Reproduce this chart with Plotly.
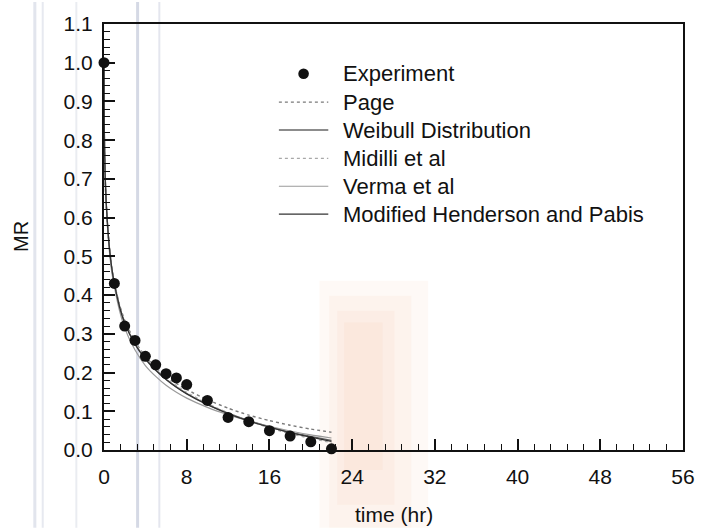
import plotly.graph_objects as go

# Drying data: measured moisture ratio versus time
t_exp = [0, 1, 2, 3, 4, 5, 6, 7, 8, 10, 12, 14, 16, 18, 20, 22]
mr_exp = [1.0, 0.43, 0.32, 0.283, 0.242, 0.22, 0.197, 0.186, 0.169, 0.128,
          0.084, 0.073, 0.05, 0.036, 0.021, 0.003]

# Fitted model curves, sampled along the drying time
t_fit = [0, 0.01, 0.05, 0.1, 0.2, 0.35, 0.5, 0.75, 1, 1.5, 2, 3, 4, 5, 6, 7, 8,
         10, 12, 14, 16, 18, 20, 22]
mr_page = [1.0, 0.87, 0.77, 0.71, 0.64, 0.575, 0.53, 0.47, 0.43, 0.375, 0.335,
           0.28, 0.242, 0.213, 0.19, 0.172, 0.156, 0.13, 0.108, 0.09, 0.076,
           0.064, 0.054, 0.046]
mr_weibull = [1.0, 0.88, 0.78, 0.72, 0.645, 0.58, 0.53, 0.47, 0.43, 0.372, 0.33,
              0.274, 0.236, 0.207, 0.183, 0.163, 0.146, 0.118, 0.095, 0.076,
              0.06, 0.046, 0.035, 0.025]
mr_midilli = [1.0, 0.86, 0.76, 0.70, 0.635, 0.575, 0.53, 0.472, 0.433, 0.375,
              0.332, 0.277, 0.24, 0.21, 0.186, 0.166, 0.149, 0.12, 0.096, 0.075,
              0.057, 0.042, 0.03, 0.019]
mr_verma = [1.0, 0.9, 0.8, 0.73, 0.65, 0.575, 0.52, 0.46, 0.422, 0.36, 0.315,
            0.258, 0.218, 0.19, 0.167, 0.149, 0.134, 0.11, 0.091, 0.075, 0.061,
            0.049, 0.039, 0.031]
mr_mhp = [1.0, 0.89, 0.79, 0.72, 0.645, 0.578, 0.528, 0.47, 0.43, 0.37, 0.328,
          0.273, 0.235, 0.206, 0.182, 0.162, 0.145, 0.117, 0.094, 0.075, 0.059,
          0.045, 0.033, 0.022]

x_ticks = [0, 8, 16, 24, 32, 40, 48, 56]
y_ticks = [0.0, 0.1, 0.2, 0.3, 0.4, 0.5, 0.6, 0.7, 0.8, 0.9, 1.0, 1.1]
y_labels = ["0.0", "0.1", "0.2", "0.3", "0.4", "0.5", "0.6", "0.7", "0.8",
            "0.9", "1.0", "1.1"]

models = [
    ("Page", mr_page, dict(color="#7a7a7a", width=1.4, dash="dot")),
    ("Weibull Distribution", mr_weibull, dict(color="#666666", width=1.3, dash="solid")),
    ("Midilli et al", mr_midilli, dict(color="#a8a8a8", width=1.3, dash="dot")),
    ("Verma et al", mr_verma, dict(color="#9a9a9a", width=1.2, dash="solid")),
    ("Modified Henderson and Pabis", mr_mhp, dict(color="#333333", width=1.3, dash="solid")),
]

W, H = 707, 528
L, R, T, B = 104, 17, 22, 78
PW, PH = W - L - R, H - T - B
FONT = "Arial, Liberation Sans, sans-serif"


def px(x):
    return (x - L) / PW


def py(y):
    return (H - B - y) / PH


fig = go.Figure()

for name, ys, style in models:
    fig.add_trace(go.Scatter(x=t_fit, y=ys, mode="lines", name=name,
                             line=dict(shape="spline", smoothing=0.6, **style),
                             cliponaxis=False, showlegend=False))

fig.add_trace(go.Scatter(x=t_exp, y=mr_exp, mode="markers", name="Experiment",
                         marker=dict(size=11, color="#111111",
                                     line=dict(width=0)),
                         cliponaxis=False, showlegend=False))

shapes = []
annotations = []

# faint scanner streaks and a soft warm tint on the page
for xs, col, w in [(34, "rgba(160,168,195,0.30)", 3), (42, "rgba(160,168,195,0.25)", 2),
                   (76, "rgba(170,178,200,0.25)", 2), (138, "rgba(150,160,190,0.40)", 3),
                   (160, "rgba(165,172,200,0.30)", 2)]:
    shapes.append(dict(type="line", xref="paper", yref="paper", layer="below",
                       x0=px(xs), x1=px(xs), y0=py(0), y1=py(H),
                       line=dict(color=col, width=w)))
for x0, x1, y0, y1 in [(322, 432, 280, H), (332, 415, 295, H),
                       (340, 398, 310, 505), (347, 386, 322, 470)]:
    shapes.append(dict(type="rect", xref="paper", yref="paper", layer="below",
                       x0=px(x0), x1=px(x1), y0=py(y0), y1=py(y1),
                       fillcolor="rgba(240,175,130,0.07)", line=dict(width=0)))

# key
row_y = [72, 100.5, 128.5, 157, 185, 213]
annotations.append(dict(xref="paper", yref="paper", x=px(344), y=py(row_y[0]),
                        xanchor="left", yanchor="middle", showarrow=False,
                        text="Experiment", font=dict(family=FONT, size=22, color="#111")))
shapes.append(dict(type="circle", xref="paper", yref="paper",
                   xsizemode="pixel", ysizemode="pixel",
                   xanchor=px(306), yanchor=py(row_y[0]),
                   x0=-5.3, x1=5.3, y0=-5.3, y1=5.3,
                   fillcolor="#111111", line=dict(width=0)))
for (name, ys, style), ry in zip(models, row_y[1:]):
    shapes.append(dict(type="line", xref="paper", yref="paper",
                       x0=px(281), x1=px(331), y0=py(ry), y1=py(ry),
                       line=dict(color=style["color"], width=style["width"],
                                 dash=style["dash"])))
    annotations.append(dict(xref="paper", yref="paper", x=px(344), y=py(ry),
                            xanchor="left", yanchor="middle", showarrow=False,
                            text=name, font=dict(family=FONT, size=22, color="#111")))

# axis titles
annotations.append(dict(xref="paper", yref="paper", x=0.5, y=py(515),
                        xanchor="center", yanchor="middle", showarrow=False,
                        text="time (hr)", font=dict(family=FONT, size=21, color="#111")))
annotations.append(dict(xref="paper", yref="paper", x=px(20), y=py(236),
                        xanchor="center", yanchor="middle", showarrow=False,
                        textangle=-90, text="MR",
                        font=dict(family=FONT, size=20, color="#111")))

axis_common = dict(showgrid=False, zeroline=False, showline=True, linewidth=2,
                   linecolor="#111", mirror=True, ticks="inside", ticklen=11,
                   tickwidth=1.5, tickcolor="#111",
                   tickfont=dict(family=FONT, size=21, color="#111"))

fig.update_layout(
    width=W, height=H,
    margin=dict(l=L, r=R, t=T, b=B),
    paper_bgcolor="white", plot_bgcolor="rgba(0,0,0,0)",
    showlegend=False,
    xaxis=dict(range=[0, 56], tickvals=x_ticks, ticklabelstandoff=7,
               minor=dict(dtick=1.6, tick0=0, ticks="inside", ticklen=6,
                          tickwidth=1.2, tickcolor="#111", showgrid=False),
               **axis_common),
    yaxis=dict(range=[0, 1.1], tickvals=y_ticks, ticktext=y_labels,
               ticklabelstandoff=5,
               minor=dict(dtick=0.02, tick0=0, ticks="inside", ticklen=6,
                          tickwidth=1.2, tickcolor="#111", showgrid=False),
               **axis_common),
    shapes=shapes, annotations=annotations,
)

fig.write_html("out.html")
